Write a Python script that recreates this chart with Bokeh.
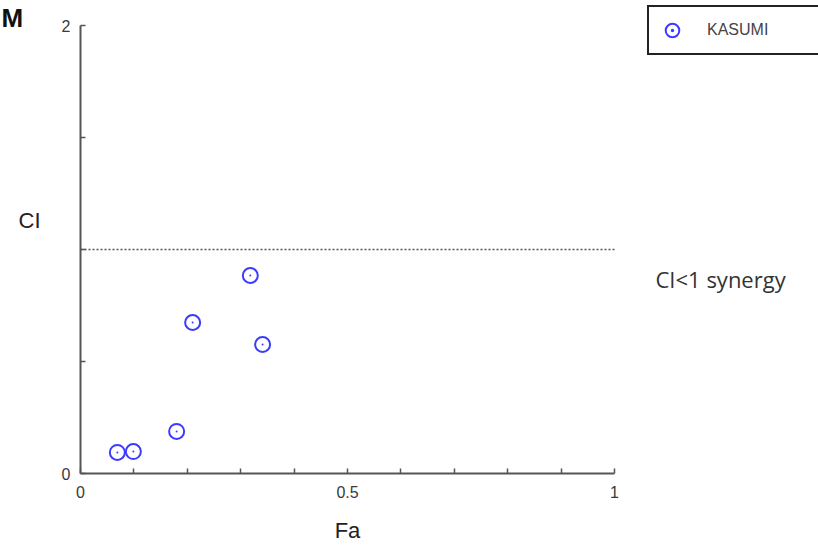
from bokeh.plotting import figure
from bokeh.models import Range1d, FixedTicker, Label, Legend, LegendItem
from bokeh.embed import file_html
from bokeh.resources import INLINE

# ---- data ----
series_name = "KASUMI"
fa = [0.069, 0.099, 0.180, 0.210, 0.318, 0.341]
ci = [0.094, 0.098, 0.188, 0.674, 0.884, 0.576]
x_ticks = [0, 0.1, 0.2, 0.3, 0.4, 0.5, 0.6, 0.7, 0.8, 0.9, 1.0]
x_tick_labels = {0: "0", 0.5: "0.5", 1.0: "1"}
y_ticks = [0, 0.5, 1.0, 1.5, 2.0]
y_tick_labels = {0: "0", 2.0: "2"}
threshold = 1.0
note_text = "CI<1 synergy"
panel_letter = "M"
x_title = "Fa"
y_title = "CI"

W, H = 818, 548
# pixel placement of the data area (x: 0 -> 80px, 1 -> 614px ; y: 0 -> 473px, 1 -> 249px)
px_x0, px_per_x = 80.0, 534.0
px_y0, px_per_y = 473.0, 224.0
x_range = Range1d(-px_x0 / px_per_x, (W - px_x0) / px_per_x)
y_range = Range1d((px_y0 - H) / px_per_y, px_y0 / px_per_y)

def dx(px):
    return (px - px_x0) / px_per_x

def dy(py):
    return (px_y0 - py) / px_per_y

p = figure(output_backend="svg", toolbar_location=None,
           frame_width=W, frame_height=H,
           min_border=0, min_border_left=0, min_border_right=0,
           min_border_top=0, min_border_bottom=0,
           x_range=x_range, y_range=y_range)
p.outline_line_color = None
p.xgrid.visible = False
p.ygrid.visible = False
p.background_fill_color = "white"
p.border_fill_color = "white"

for ax in (p.xaxis[0], p.yaxis[0]):
    ax.fixed_location = 0
    ax.axis_line_color = "#555555"
    ax.axis_line_width = 2
    ax.major_tick_line_color = "#555555"
    ax.major_tick_line_width = 1.5
    ax.major_tick_in = 5
    ax.major_tick_out = 0
    ax.minor_tick_line_color = None
    ax.major_label_text_font = "Liberation Sans"
    ax.major_label_text_font_size = "16px"
    ax.major_label_text_color = "#3a3a3a"

p.xaxis[0].bounds = (x_ticks[0], x_ticks[-1])
p.xaxis[0].ticker = FixedTicker(ticks=x_ticks)
p.xaxis[0].major_label_overrides = {t: x_tick_labels.get(t, "") for t in x_ticks}
p.xaxis[0].major_label_standoff = 12

p.yaxis[0].bounds = (y_ticks[0], y_ticks[-1])
p.yaxis[0].ticker = FixedTicker(ticks=y_ticks)
p.yaxis[0].major_label_overrides = {t: y_tick_labels.get(t, "") for t in y_ticks}
p.yaxis[0].major_label_standoff = 10

# CI = 1 reference line across the data span
p.segment(x0=[x_ticks[0]], x1=[x_ticks[-1]], y0=[threshold], y1=[threshold],
          line_color="#555555", line_width=1.5, line_dash="2 2")

r1 = p.scatter(fa, ci, marker="circle", size=15, fill_color=None,
               line_color="#3b3bff", line_width=2)
r2 = p.scatter(fa, ci, marker="dot", size=8, fill_color="#3b3bff",
               line_color="#3b3bff")

legend = Legend(items=[LegendItem(label=series_name, renderers=[r1, r2])],
                location=(647, H - 55), orientation="vertical",
                border_line_color="#222222", border_line_width=2,
                border_line_alpha=1,
                background_fill_color="white", background_fill_alpha=1,
                padding=6, margin=0, glyph_width=34, glyph_height=34,
                label_standoff=18, label_width=200, label_height=18,
                label_text_font="Liberation Sans", label_text_font_size="16px",
                label_text_color="#444444")
p.add_layout(legend, "center")

p.add_layout(Label(x=0.5, y=dy(530), text=x_title, text_font="Liberation Sans",
                   text_font_size="22px", text_color="#222222",
                   text_align="center", text_baseline="middle"))
p.add_layout(Label(x=dx(40), y=dy(220), text=y_title, text_font="Liberation Sans",
                   text_font_size="22px", text_color="#222222",
                   text_align="right", text_baseline="middle"))
p.add_layout(Label(x=dx(1), y=dy(2), text=panel_letter, text_font="Liberation Sans",
                   text_font_size="26px", text_font_style="bold", text_color="#111111",
                   text_align="left", text_baseline="top"))
p.add_layout(Label(x=dx(655), y=dy(278), text=note_text, text_font="Open Sans",
                   text_font_size="22px", text_color="#333333",
                   text_align="left", text_baseline="alphabetic"))

open("out.html", "w").write(file_html(p, INLINE))
